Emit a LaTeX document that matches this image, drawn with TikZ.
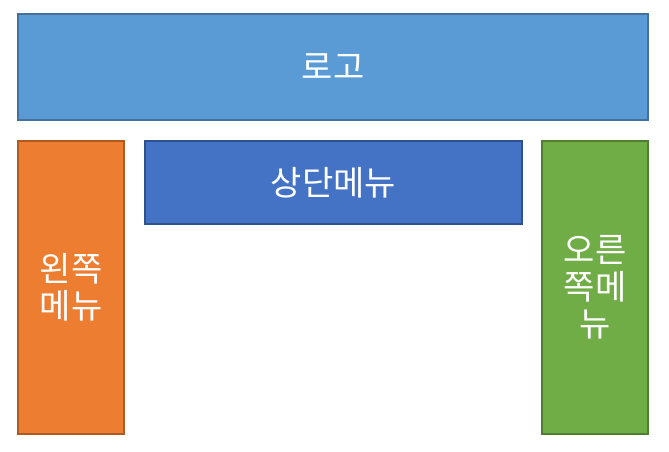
\documentclass[tikz,border=0pt]{standalone}
\usepackage{fontspec}
\setmainfont{Noto Sans CJK KR}
\usepackage{xcolor}
\usetikzlibrary{positioning}
\definecolor{logofill}{RGB}{91,155,213}
\definecolor{logoborder}{RGB}{65,113,156}
\definecolor{leftfill}{RGB}{237,125,49}
\definecolor{leftborder}{RGB}{174,90,33}
\definecolor{topfill}{RGB}{68,114,196}
\definecolor{topborder}{RGB}{47,82,143}
\definecolor{rightfill}{RGB}{112,173,71}
\definecolor{rightborder}{RGB}{80,126,50}

\tikzset{
    menubox/.style={rectangle, line width=1.5pt, text=white, align=center,
        font=\fontsize{34}{37}\selectfont, inner sep=0pt}
}

\begin{document}
\begin{tikzpicture}[x=1pt, y=-1pt]

% Page frame
\useasboundingbox (0,0) rectangle (669,451);

% Logo (top banner)
\node[menubox, fill=logofill, draw=logoborder, minimum width=630pt, minimum height=106pt] (LOGO) at (333, 67) {로고};

% Left menu
\node[menubox, fill=leftfill, draw=leftborder, minimum width=106pt, minimum height=293pt] (LEFT) at (71, 287.5) {왼쪽\\메뉴};

% Top menu
\node[menubox, fill=topfill, draw=topborder, minimum width=377pt, minimum height=83pt] (TOP) at (333.5, 182.5) {상단메뉴};

% Right menu
\node[menubox, fill=rightfill, draw=rightborder, minimum width=106pt, minimum height=293pt] (RIGHT) at (595, 287.5) {오른\\쪽메\\뉴};

\end{tikzpicture}
\end{document}
